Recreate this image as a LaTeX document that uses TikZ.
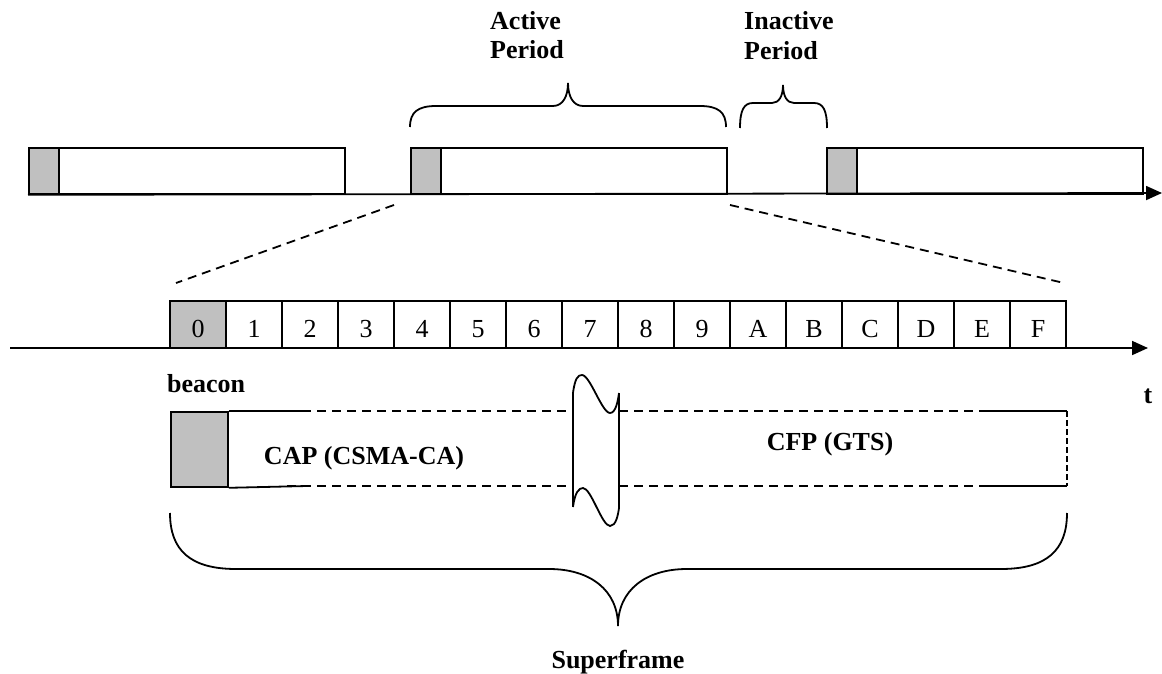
\documentclass[tikz,border=0pt]{standalone}
\usepackage{fontspec}
\setmainfont{Liberation Serif}
\usetikzlibrary{arrows.meta}
\definecolor{shade}{RGB}{192,192,192}
\tikzset{
  ln/.style={line width=1.8pt},
  outbox/.style={draw, line width=1.8pt, inner sep=0pt, anchor=north west},
  graybox/.style={draw, fill=shade, line width=1.8pt, inner sep=0pt, anchor=north west},
  slotbox/.style={draw, line width=1.8pt, minimum width=56pt, minimum height=47pt, inner sep=0pt,
                  text height=25pt, text depth=0pt, font=\fontsize{26}{30}\selectfont},
  lbl/.style={font=\fontsize{26}{30}\selectfont\bfseries, inner sep=0pt},
  dsh/.style={line width=1.8pt, dash pattern=on 9pt off 6pt},
  brc/.style={line width=1.8pt},
  axarrow/.style={line width=1.8pt, -{Triangle[length=16pt,width=14pt]}}
}
\begin{document}
\begin{tikzpicture}[x=1pt,y=-1pt]
\useasboundingbox (0,0) rectangle (1162,674);

% ---------- top row ----------
\foreach \n/\x in {1/28,2/410,3/826}{
  \node[outbox, minimum width=316pt, minimum height=46pt] (p\n) at (\x,147) {};
  \node[graybox, minimum width=30pt, minimum height=46pt] (g\n) at (\x,147) {};
}
\coordinate (ax1e) at (1162,193);
\draw[axarrow] (p1.south west) -- (ax1e);

% labels top
\node[lbl, anchor=base west] (ap1) at (490,30) {Active};
\node[lbl, anchor=base west] (ap2) at (490,59) {Period};
\node[lbl, anchor=base west] (ip1) at (744,30) {Inactive};
\node[lbl, anchor=base west] (ip2) at (744,60) {Period};

% active brace
\draw[brc] (410,127) .. controls (410,112) and (418,106) .. (436,106) -- (553,106)
  .. controls (563,106) and (568,96) .. (568,83)
  .. controls (568,96) and (573,106) .. (583,106) -- (700,106)
  .. controls (718,106) and (726,112) .. (726,127);
% inactive brace
\draw[brc] (740,128) .. controls (740,110) and (744,103) .. (753,103) -- (772,103)
  .. controls (779,103) and (783,96) .. (783,85)
  .. controls (783,96) and (787,103) .. (794,103) -- (814,103)
  .. controls (823,103) and (827,110) .. (827,128);

% zoom lines
\coordinate (zl1) at (394,205);
\coordinate (zl2) at (176,283);
\coordinate (zr1) at (730,205);
\coordinate (zr2) at (1064,283);
\draw[dsh] (zl1) -- (zl2);
\draw[dsh] (zr1) -- (zr2);

% ---------- slots ----------
\node[slotbox, fill=shade] (s0) at (198,324.5) {0};
\foreach \i/\t in {1/1,2/2,3/3,4/4,5/5,6/6,7/7,8/8,9/9,10/A,11/B,12/C,13/D,14/E,15/F}{
  \node[slotbox] (s\i) at ({198+56*\i},324.5) {\t};
}
\coordinate (ax2s) at (10,348);
\coordinate (ax2e) at (1148,348);
\draw[axarrow] (ax2s) -- (ax2e);
\node[lbl, anchor=base] (tl) at (1148,403) {t};

% ---------- superframe detail ----------
\node[lbl, anchor=base west] (beacon) at (167,392) {beacon};
\node[graybox, minimum width=57pt, minimum height=75pt] (bcn) at (170,411) {};
\coordinate (ct1) at (307,411);
\coordinate (cb1) at (307,486);
\draw[ln] (bcn.north east) -- (ct1);
\draw[ln] (bcn.south east) -- (cb1);
\draw[dsh] (287,411) -- (573,411);
\draw[dsh] (287,486) -- (573,486);
\draw[dsh] (619,411) -- (1067,411);
\draw[dsh] (619,486) -- (1067,486);
\draw[ln] (982,411) -- (1067,411);
\draw[ln] (982,486) -- (1067,486);
\draw[line width=1.8pt, dash pattern=on 6pt off 3pt] (1067,411) -- (1067,486);

% break symbol
\draw[ln] (573,393) -- (573,507);
\draw[ln] (619,393) -- (619,508);
\draw[ln] (573,393) .. controls (575,378) and (578,375) .. (582,375)
  .. controls (590,375) and (602,413) .. (610,413)
  .. controls (616,413) and (618,400) .. (619,393);
\draw[ln] (573,507) .. controls (575,492) and (579,488) .. (583,488)
  .. controls (591,488) and (602,526) .. (610,526)
  .. controls (616,526) and (618,515) .. (619,508);

\node[lbl, anchor=base] (cap) at (364,464) {CAP (CSMA-CA)};
\node[lbl, anchor=base] (cfp) at (830,450) {CFP (GTS)};

% superframe brace
\draw[brc] (170,513) .. controls (170,550) and (190,569) .. (236,569) -- (549,569)
  .. controls (590,569) and (618,590) .. (618,626)
  .. controls (618,590) and (646,569) .. (687,569) -- (1001,569)
  .. controls (1047,569) and (1067,550) .. (1067,513);
\node[lbl, anchor=base] (sf) at (618,668) {Superframe};
\end{tikzpicture}
\end{document}
